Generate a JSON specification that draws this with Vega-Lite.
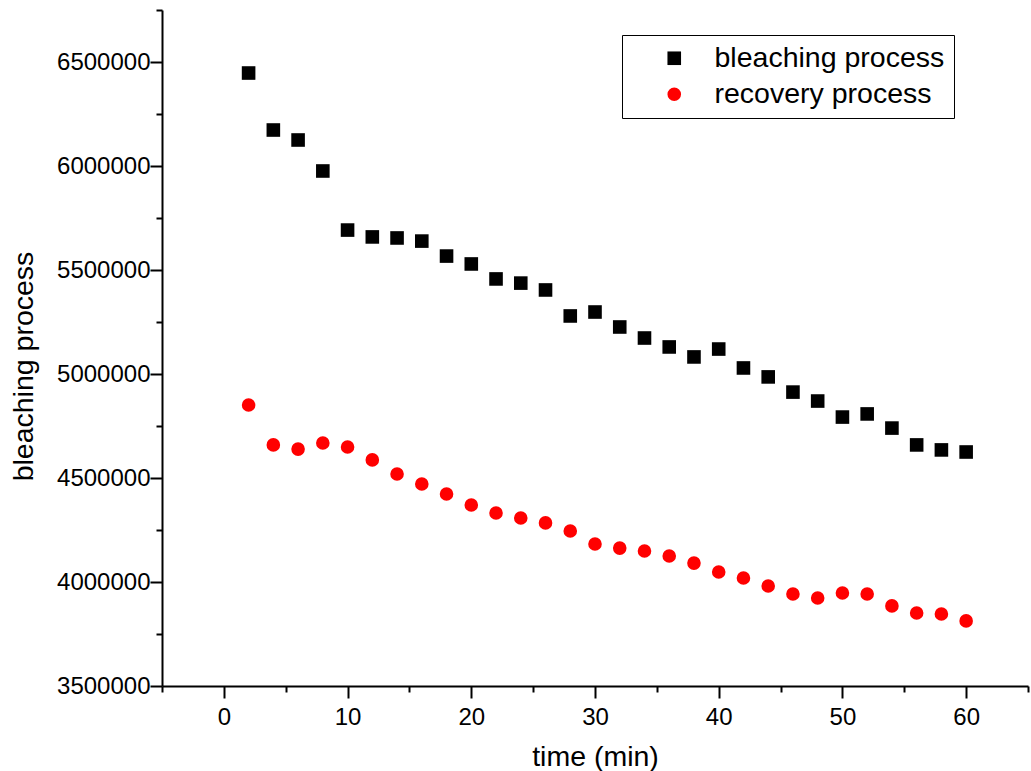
{
  "$schema": "https://vega.github.io/schema/vega-lite/v6.json",
  "width": 866,
  "height": 676,
  "autosize": {"type": "none"},
  "padding": {"left": 162, "top": 10, "right": 3, "bottom": 85},
  "background": "white",
  "config": {"view": {"stroke": null}},
  "data": {"values": [
    {"t": 2, "v": 6447000, "s": "bleaching process"},
    {"t": 4, "v": 6173000, "s": "bleaching process"},
    {"t": 6, "v": 6125000, "s": "bleaching process"},
    {"t": 8, "v": 5976000, "s": "bleaching process"},
    {"t": 10, "v": 5692000, "s": "bleaching process"},
    {"t": 12, "v": 5659000, "s": "bleaching process"},
    {"t": 14, "v": 5654000, "s": "bleaching process"},
    {"t": 16, "v": 5639000, "s": "bleaching process"},
    {"t": 18, "v": 5567000, "s": "bleaching process"},
    {"t": 20, "v": 5529000, "s": "bleaching process"},
    {"t": 22, "v": 5457000, "s": "bleaching process"},
    {"t": 24, "v": 5437000, "s": "bleaching process"},
    {"t": 26, "v": 5404000, "s": "bleaching process"},
    {"t": 28, "v": 5279000, "s": "bleaching process"},
    {"t": 30, "v": 5298000, "s": "bleaching process"},
    {"t": 32, "v": 5226000, "s": "bleaching process"},
    {"t": 34, "v": 5173000, "s": "bleaching process"},
    {"t": 36, "v": 5130000, "s": "bleaching process"},
    {"t": 38, "v": 5082000, "s": "bleaching process"},
    {"t": 40, "v": 5120000, "s": "bleaching process"},
    {"t": 42, "v": 5029000, "s": "bleaching process"},
    {"t": 44, "v": 4986000, "s": "bleaching process"},
    {"t": 46, "v": 4913000, "s": "bleaching process"},
    {"t": 48, "v": 4870000, "s": "bleaching process"},
    {"t": 50, "v": 4793000, "s": "bleaching process"},
    {"t": 52, "v": 4808000, "s": "bleaching process"},
    {"t": 54, "v": 4740000, "s": "bleaching process"},
    {"t": 56, "v": 4659000, "s": "bleaching process"},
    {"t": 58, "v": 4635000, "s": "bleaching process"},
    {"t": 60, "v": 4625000, "s": "bleaching process"},
    {"t": 2, "v": 4851000, "s": "recovery process"},
    {"t": 4, "v": 4659000, "s": "recovery process"},
    {"t": 6, "v": 4639000, "s": "recovery process"},
    {"t": 8, "v": 4668000, "s": "recovery process"},
    {"t": 10, "v": 4649000, "s": "recovery process"},
    {"t": 12, "v": 4587000, "s": "recovery process"},
    {"t": 14, "v": 4519000, "s": "recovery process"},
    {"t": 16, "v": 4471000, "s": "recovery process"},
    {"t": 18, "v": 4423000, "s": "recovery process"},
    {"t": 20, "v": 4370000, "s": "recovery process"},
    {"t": 22, "v": 4332000, "s": "recovery process"},
    {"t": 24, "v": 4308000, "s": "recovery process"},
    {"t": 26, "v": 4284000, "s": "recovery process"},
    {"t": 28, "v": 4245000, "s": "recovery process"},
    {"t": 30, "v": 4183000, "s": "recovery process"},
    {"t": 32, "v": 4163000, "s": "recovery process"},
    {"t": 34, "v": 4149000, "s": "recovery process"},
    {"t": 36, "v": 4125000, "s": "recovery process"},
    {"t": 38, "v": 4091000, "s": "recovery process"},
    {"t": 40, "v": 4048000, "s": "recovery process"},
    {"t": 42, "v": 4019000, "s": "recovery process"},
    {"t": 44, "v": 3981000, "s": "recovery process"},
    {"t": 46, "v": 3942000, "s": "recovery process"},
    {"t": 48, "v": 3923000, "s": "recovery process"},
    {"t": 50, "v": 3947000, "s": "recovery process"},
    {"t": 52, "v": 3942000, "s": "recovery process"},
    {"t": 54, "v": 3885000, "s": "recovery process"},
    {"t": 56, "v": 3851000, "s": "recovery process"},
    {"t": 58, "v": 3846000, "s": "recovery process"},
    {"t": 60, "v": 3813000, "s": "recovery process"}
  ]},
  "mark": {"type": "point", "filled": true, "size": 185, "opacity": 1},
  "encoding": {
    "x": {
      "field": "t", "type": "quantitative",
      "scale": {"domain": [-5, 65], "nice": false, "zero": false},
      "axis": {
        "title": "time (min)",
        "values": [-5, 0, 5, 10, 15, 20, 25, 30, 35, 40, 45, 50, 55, 60, 65],
        "labelExpr": "(datum.value % 10 === 0 && datum.value >= 0 && datum.value <= 60) ? datum.label : ''",
        "format": "d",
        "grid": false,
        "domainColor": "black", "domainWidth": 2,
        "tickColor": "black", "tickWidth": 2,
        "tickSize": {"condition": {"test": "datum.value % 10 === 0", "value": 12}, "value": 6},
        "labelFont": "Liberation Sans", "labelFontSize": 24, "labelColor": "black",
        "labelPadding": 7, "labelOverlap": false, "labelFlush": false,
        "titleFont": "Liberation Sans", "titleFontSize": 28.5, "titleFontWeight": "normal", "titleColor": "black",
        "titleX": 433, "titleY": 79, "titleBaseline": "alphabetic"
      }
    },
    "y": {
      "field": "v", "type": "quantitative",
      "scale": {"domain": [3500000, 6750000], "nice": false, "zero": false},
      "axis": {
        "title": "bleaching process",
        "values": [3500000, 3750000, 4000000, 4250000, 4500000, 4750000, 5000000, 5250000, 5500000, 5750000, 6000000, 6250000, 6500000, 6750000],
        "labelExpr": "(datum.value % 500000 === 0) ? datum.label : ''",
        "format": "d",
        "grid": false,
        "domainColor": "black", "domainWidth": 2,
        "tickColor": "black", "tickWidth": 2,
        "tickSize": {"condition": {"test": "datum.value % 500000 === 0", "value": 12}, "value": 6},
        "labelFont": "Liberation Sans", "labelFontSize": 24, "labelColor": "black",
        "labelPadding": 0, "labelOverlap": false, "labelFlush": false,
        "titleFont": "Liberation Sans", "titleFontSize": 28.5, "titleFontWeight": "normal", "titleColor": "black",
        "titleX": -130, "titleY": 356, "titleBaseline": "alphabetic", "titleAngle": -90
      }
    },
    "color": {
      "field": "s", "type": "nominal",
      "scale": {"domain": ["bleaching process", "recovery process"], "range": ["#000000", "#ff0000"]},
      "legend": {
        "title": null, "orient": "none", "legendX": 460, "legendY": 25,
        "padding": 9, "strokeColor": "black", "fillColor": "white",
        "labelFont": "Liberation Sans", "labelFontSize": 28.5, "labelColor": "black", "labelLimit": 500,
        "symbolSize": 185, "symbolOffset": 29, "labelOffset": 26, "rowPadding": 7
      }
    },
    "shape": {
      "field": "s", "type": "nominal",
      "scale": {"domain": ["bleaching process", "recovery process"], "range": ["square", "circle"]},
      "legend": {
        "title": null, "orient": "none", "legendX": 460, "legendY": 25,
        "padding": 9, "strokeColor": "black", "fillColor": "white",
        "labelFont": "Liberation Sans", "labelFontSize": 28.5, "labelColor": "black", "labelLimit": 500,
        "symbolSize": 185, "symbolOffset": 29, "labelOffset": 26, "rowPadding": 7
      }
    }
  }
}
